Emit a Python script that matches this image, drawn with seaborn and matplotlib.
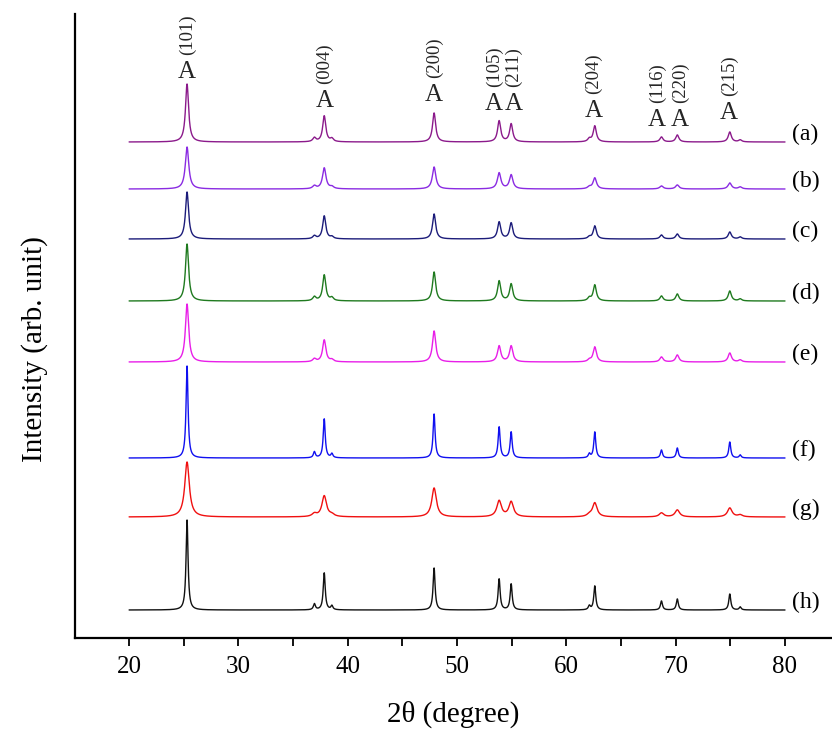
import numpy as np
import pandas as pd
import matplotlib
matplotlib.use("Agg")
import matplotlib.pyplot as plt
import seaborn as sns
from matplotlib.ticker import FixedLocator

# ---------------- data ----------------
samples = ["(a)", "(b)", "(c)", "(d)", "(e)", "(f)", "(g)", "(h)"]
colors = ["#8b1a8b", "#8a2be2", "#1c1c7a", "#1f7a1f", "#e81ee8", "#1010f0", "#f01010", "#111111"]
# vertical offset of each trace (arb. units)
offsets = [496, 449, 399, 337, 276, 180, 121, 28]

# peak positions (2θ, degree)
peak_pos = [25.3, 36.95, 37.85, 38.55, 47.9, 53.85, 54.95, 62.1, 62.6, 68.7, 70.15, 74.95, 75.9]
# peak intensities for each sample (same order as peak_pos)
int_a = [58, 4, 26, 3, 29, 21, 18, 3, 16, 5, 7, 10, 2]
int_b = [42, 3, 21, 2, 22, 16, 14, 2, 11, 3, 4, 6, 2]
int_c = [47, 3, 23, 2, 25, 17, 16, 2, 13, 4, 5, 7, 2]
int_d = [57, 4, 26, 3, 29, 20, 17, 3, 16, 5, 7, 10, 2]
int_e = [58, 3, 22, 2, 31, 16, 16, 2, 15, 5, 7, 9, 2]
int_f = [92, 6, 39, 4, 44, 31, 26, 4, 26, 8, 10, 16, 3]
int_g = [55, 3, 21, 2, 29, 16, 15, 2, 14, 4, 7, 9, 2]
int_h = [90, 6, 37, 4, 42, 31, 26, 4, 24, 9, 11, 16, 3]
intensities = [int_a, int_b, int_c, int_d, int_e, int_f, int_g, int_h]
# peak widths (FWHM, degree)
fwhm = [0.34, 0.38, 0.34, 0.34, 0.36, 0.22, 0.50, 0.22]

# indexed reflections of anatase
hkl_labels = ["(101)", "(004)", "(200)", "(105)", "(211)", "(204)", "(116)", "(220)", "(215)"]
phase_labels = ["A"] * len(hkl_labels)

x_ticks = [20, 30, 40, 50, 60, 70, 80]

# ---------------- layout ----------------
label_x = [25.3, 37.9, 47.9, 53.4, 55.2, 62.5, 68.3, 70.4, 74.9]
label_y = [566, 537, 543, 534, 534, 527, 518, 518, 525]

two_theta = np.linspace(20, 80, 6001)
frames = []
for name, off, ints, w in zip(samples, offsets, intensities, fwhm):
    prof = np.zeros_like(two_theta)
    for p, h in zip(peak_pos, ints):
        prof += h / (1.0 + ((two_theta - p) / (w / 2.0)) ** 2)
    frames.append(pd.DataFrame({"2θ": two_theta, "I": off + prof, "sample": name}))
data = pd.concat(frames, ignore_index=True)

sns.set_style("ticks")
plt.rcParams["font.family"] = ["Liberation Serif", "DejaVu Serif"]

fig = plt.figure(figsize=(8.32, 7.30), dpi=100)
ax = fig.add_axes([75 / 832, 92 / 730, 757 / 832, 624 / 730])

sns.lineplot(data=data, x="2θ", y="I", hue="sample", palette=dict(zip(samples, colors)),
             estimator=None, sort=False, legend=False, linewidth=1.0, ax=ax)

ax.set_xlim(15.05, 84.3)
ax.set_ylim(0, 624)

for s, off in zip(samples, offsets):
    ax.text(80.65, off + 8, s, ha="left", va="center", fontsize=17, color="black")

for lx, ly, ph, hk in zip(label_x, label_y, phase_labels, hkl_labels):
    ax.text(lx, ly, ph, ha="center", va="center", fontsize=18)
    ax.text(lx, ly + 17, hk, ha="center", va="bottom", rotation=90, fontsize=13.5)

sns.despine(ax=ax, top=True, right=True)
ax.spines["left"].set_linewidth(1.6)
ax.spines["bottom"].set_linewidth(1.6)
ax.spines["left"].set_color("black")
ax.spines["bottom"].set_color("black")
ax.set_yticks([])
ax.xaxis.set_major_locator(FixedLocator(x_ticks))
ax.xaxis.set_minor_locator(FixedLocator([15, 25, 35, 45, 55, 65, 75]))
ax.tick_params(axis="x", which="major", direction="out", length=6, width=1.3,
               labelsize=18, pad=7, color="black", labelcolor="black")
ax.tick_params(axis="x", which="minor", direction="out", length=6, width=1.3, color="black")

ax.set_xlabel("2θ (degree)", fontsize=21, va="center", color="black")
ax.xaxis.set_label_coords(0.5, -0.123)
ax.set_ylabel("Intensity (arb. unit)", fontsize=21, va="center", color="black")
ax.yaxis.set_label_coords(-0.053, 0.463)

fig.savefig("out.png", dpi=100)
